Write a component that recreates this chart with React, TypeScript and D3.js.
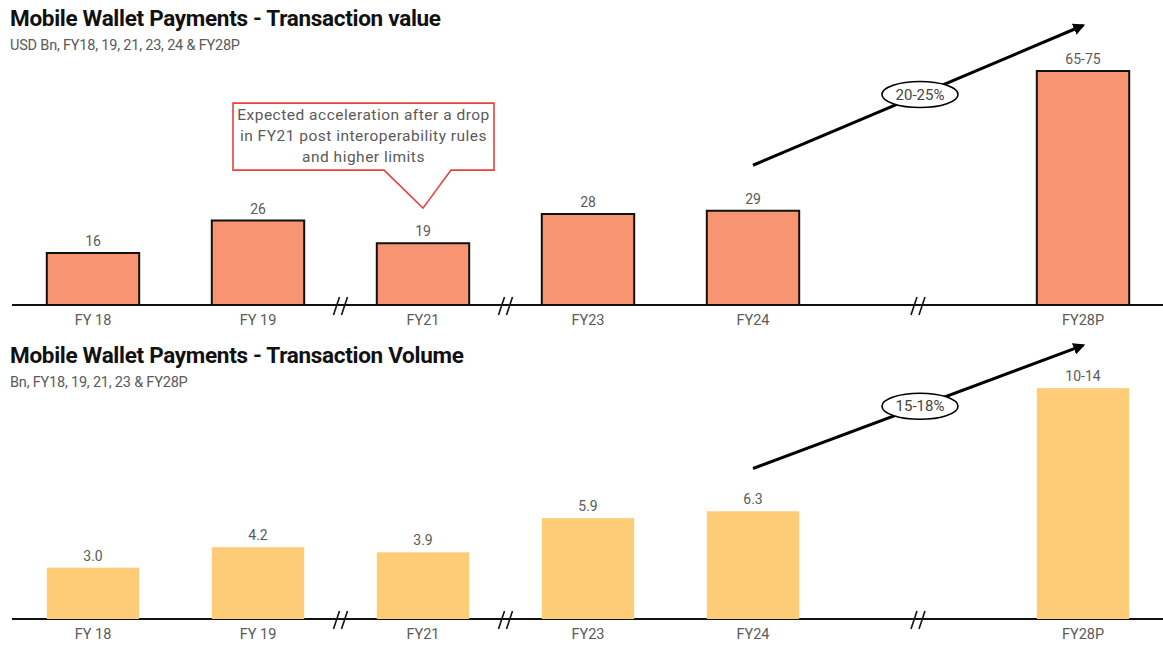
import * as d3 from "d3";

// slots along the x axis; "gap" is the empty slot before the projection
const slots = ["FY 18", "FY 19", "FY21", "FY23", "FY24", "gap", "FY28P"];
const categories = ["FY 18", "FY 19", "FY21", "FY23", "FY24", "FY28P"];
// axis breaks: between FY 19/FY21, FY21/FY23 and in the gap slot
const breaksAfter = ["FY 19", "FY21"];
const breakSlot = "gap";

const valueData = [16, 26, 19, 28, 29, 72];
const valueLabels = ["16", "26", "19", "28", "29", "65-75"];
const volumeData = [3.0, 4.2, 3.9, 5.9, 6.3, 13.5];
const volumeLabels = ["3.0", "4.2", "3.9", "5.9", "6.3", "10-14"];

const valueCagr = "20-25%";
const volumeCagr = "15-18%";
// arrow start/end on the value scale (start over FY24, end over FY28P)
const valueArrow = [43, 86];
const volumeArrow = [8.8, 16];

const calloutLines = [
  "Expected acceleration after a drop",
  "in FY21 post interoperability rules",
  "and higher limits",
];

const W = 1163;
const H = 646;
const FONT = "Roboto, 'Noto Sans', sans-serif";
const GREY = "#5a5a5a";

const x = d3
  .scaleBand()
  .domain(slots)
  .range([10.5, 1165.5])
  .paddingInner(0.44)
  .paddingOuter(0.22);

const cx = (k) => x(k) + x.bandwidth() / 2;

function BreakMark({ px, py }) {
  return (
    <g stroke="#111" strokeWidth={1.6}>
      <line x1={px - 7} y1={py + 9} x2={px - 1} y2={py - 9} />
      <line x1={px + 1} y1={py + 9} x2={px + 7} y2={py - 9} />
    </g>
  );
}

function Panel({ top, base, y, data, labels, fill, stroke, title, subtitle, cagr, arrow, id }) {
  const x0 = cx("FY24");
  const x1 = cx("FY28P");
  const ya = y(arrow[0]);
  const yb = y(arrow[1]);
  const mx = cx(breakSlot) + 2;
  const my = ya + ((yb - ya) * (mx - x0)) / (x1 - x0);
  return (
    <g>
      <text x={10} y={top + 26} fontFamily={FONT} fontWeight={700} fontSize={22.5} letterSpacing={-0.3} fill="#111">
        {title}
      </text>
      <text x={10} y={top + 50} fontFamily={FONT} fontSize={14.5} letterSpacing={-0.2} fill={GREY}>
        {subtitle}
      </text>
      <defs>
        <marker id={id} viewBox="0 0 10 10" refX={8} refY={5} markerWidth={4} markerHeight={4} orient="auto">
          <path d="M0,0 L10,5 L0,10 z" fill="#000" />
        </marker>
      </defs>
      <line x1={12} x2={W} y1={base} y2={base} stroke="#111" strokeWidth={2} />
      {categories.map((c, i) => (
        <g key={c}>
          <rect
            x={x(c)}
            y={y(data[i])}
            width={x.bandwidth()}
            height={base - y(data[i])}
            fill={fill}
            stroke={stroke}
            strokeWidth={stroke === "none" ? 0 : 2}
          />
          <text x={cx(c)} y={y(data[i]) - 7} textAnchor="middle" fontFamily={FONT} fontSize={14} fill={GREY}>
            {labels[i]}
          </text>
          <text x={cx(c)} y={base + 20} textAnchor="middle" fontFamily={FONT} fontSize={14.5} fill={GREY}>
            {c}
          </text>
        </g>
      ))}
      {breaksAfter.map((b) => {
        const i = slots.indexOf(b);
        const px = (x(slots[i]) + x.bandwidth() + x(slots[i + 1])) / 2;
        return <BreakMark key={b} px={px} py={base + 1} />;
      })}
      <BreakMark px={cx(breakSlot)} py={base + 1} />
      <line x1={x0} y1={ya} x2={x1} y2={yb} stroke="#000" strokeWidth={3} markerEnd={`url(#${id})`} />
      <ellipse cx={mx} cy={my} rx={38} ry={13} fill="#fff" stroke="#000" strokeWidth={1.6} />
      <text x={mx} y={my + 5} textAnchor="middle" fontFamily={FONT} fontSize={15} fill="#444">
        {cagr}
      </text>
    </g>
  );
}

export default function App() {
  const yValue = d3.scaleLinear().domain([0, 80]).range([305, 45]);
  const yVolume = d3.scaleLinear().domain([0, 16]).range([619, 345.4]);

  // callout pointing at the FY21 value bar
  const tipX = cx("FY21");
  const tipY = yValue(29.8);
  const boxL = tipX - 190;
  const boxR = tipX + 71;
  const boxT = tipY - 105;
  const boxB = tipY - 38;
  const callout = `M${boxL},${boxT} H${boxR} V${boxB} H${tipX + 28} L${tipX},${tipY} L${tipX - 39},${boxB} H${boxL} Z`;

  return (
    <div style={{ position: "absolute", left: 0, top: 0 }}>
      <svg width={W} height={H} style={{ display: "block", background: "#fff" }}>
        <Panel
          id="arrA"
          top={0}
          base={305}
          y={yValue}
          data={valueData}
          labels={valueLabels}
          fill="#F79572"
          stroke="#111"
          title="Mobile Wallet Payments - Transaction value"
          subtitle="USD Bn, FY18, 19, 21, 23, 24 & FY28P"
          cagr={valueCagr}
          arrow={valueArrow}
        />
        <Panel
          id="arrB"
          top={337}
          base={619}
          y={yVolume}
          data={volumeData}
          labels={volumeLabels}
          fill="#FECB77"
          stroke="none"
          title="Mobile Wallet Payments - Transaction Volume"
          subtitle="Bn, FY18, 19, 21, 23 & FY28P"
          cagr={volumeCagr}
          arrow={volumeArrow}
        />
        <path d={callout} fill="#fff" stroke="#E8413E" strokeWidth={1.6} />
        {calloutLines.map((l, i) => (
          <text
            key={l}
            x={(boxL + boxR) / 2}
            y={boxT + 17 + i * 21}
            textAnchor="middle"
            fontFamily={FONT}
            fontSize={15.5}
            letterSpacing={0.5}
            fill={GREY}
          >
            {l}
          </text>
        ))}
      </svg>
    </div>
  );
}
